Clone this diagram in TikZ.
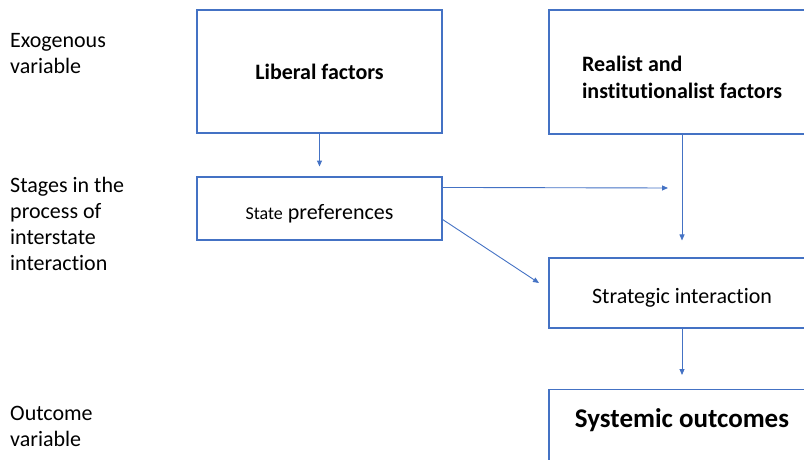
\documentclass[tikz,border=0pt]{standalone}
\usepackage{fontspec}
\setmainfont{Carlito}[Ligatures={NoCommon,NoContextual}]
\usetikzlibrary{arrows.meta,calc}
\definecolor{boxblue}{HTML}{4472C4}
\begin{document}
\begin{tikzpicture}[x=1pt,y=-1pt,
  every node/.style={font=\fontsize{22}{26}\selectfont},
  box/.style={draw=boxblue,line width=1.1pt,inner sep=0pt},
  lbl/.style={anchor=base west,align=left,inner sep=0pt},
  arr/.style={draw=boxblue,line width=0.9pt,-{Triangle[length=6pt,width=5pt]}}]
\useasboundingbox (0,0) rectangle (804,460);
\clip (0,0) rectangle (804,460);
% left labels (anchor = baseline of last line)
\node[lbl] (l1) at (10,74) {Exogenous\\variable};
\node[lbl,font=\fontsize{22}{25.7}\selectfont] (l2) at (10,270) {Stages in the\\process of\\interstate\\interaction};
\node[lbl] (l3) at (10,446) {Outcome\\variable};
% boxes
\node[box,minimum width=245,minimum height=123] (lib) at (319.5,71.5) {\bfseries Liberal factors};
\node[box,minimum width=245,minimum height=63,text height=21pt,text depth=0pt] (pref) at (319.5,208.5) {{\fontsize{18}{22}\selectfont State} preferences};
\node[box,minimum width=266,minimum height=124,align=left,text height=62pt,text depth=8pt,font=\fontsize{22}{27}\selectfont\bfseries] (real) at (682,72) {Realist and\\institutionalist factors};
\node[box,minimum width=266,minimum height=70,text height=20pt,text depth=0pt] (strat) at (682,293) {Strategic interaction};
\node[box,minimum width=266,anchor=north,inner ysep=0pt,text height=38pt,text depth=60pt,font=\fontsize{27}{31}\selectfont\bfseries] (sys) at (682,389) {Systemic outcomes};
% connectors
\coordinate (e1) at ($(lib.south)+(0,33)$);
\draw[arr] (lib.south) -- (e1);
\coordinate (e2) at ($(strat.north)+(0,-17)$);
\draw[arr] (real.south) -- (e2);
\coordinate (s3) at ($(pref.north east)+(0,11)$);
\coordinate (e3) at (668,188);
\draw[arr] (s3) -- (e3);
\coordinate (s4) at ($(pref.north east)+(0,43)$);
\coordinate (e4) at (539,283);
\draw[arr] (s4) -- (e4);
\coordinate (e5) at ($(sys.north)+(0,-14)$);
\draw[arr] (strat.south) -- (e5);
\end{tikzpicture}
\end{document}
